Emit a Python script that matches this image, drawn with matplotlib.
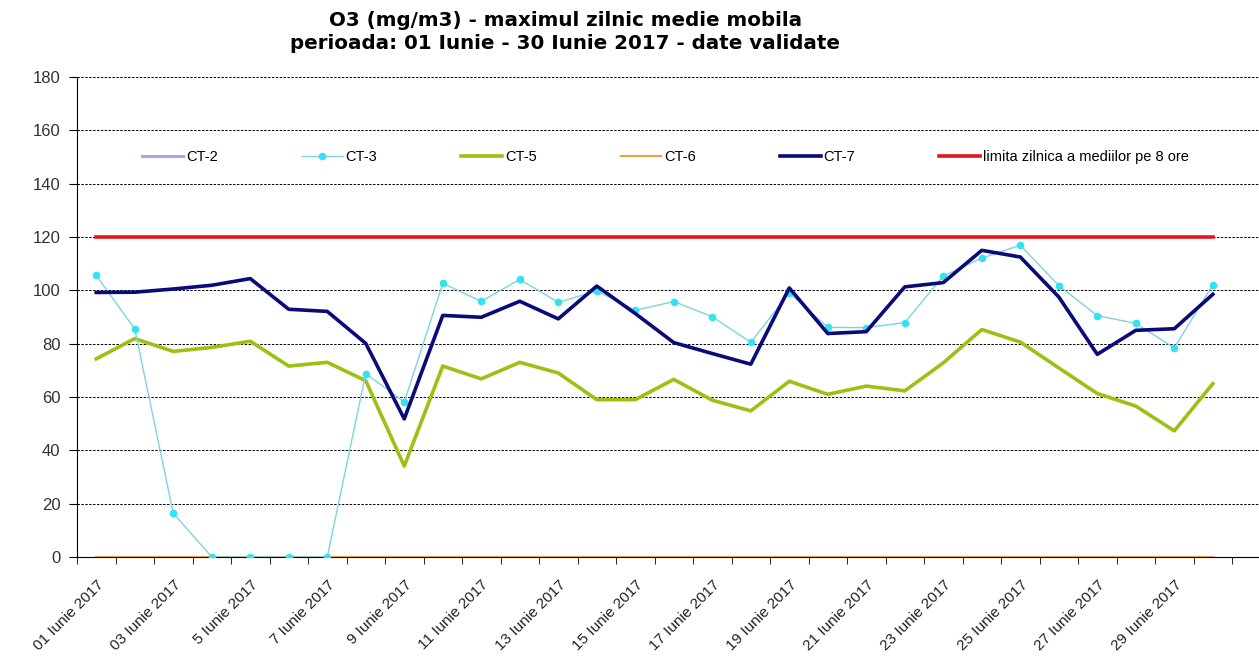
import numpy as np
import matplotlib
matplotlib.use("Agg")
import matplotlib.pyplot as plt

tick_labels = ["01 Iunie 2017", "03 Iunie 2017", "5 Iunie 2017", "7 Iunie 2017",
               "9 Iunie 2017", "11 Iunie 2017", "13 Iunie 2017", "15 Iunie 2017",
               "17 Iunie 2017", "19 Iunie 2017", "21 Iunie 2017", "23 Iunie 2017",
               "25 Iunie 2017", "27 Iunie 2017", "29 Iunie 2017"]

ct2 = [0] * 30
ct3 = [105.6, 85.5, 16.4, 0, 0, 0, 0, 68.8, 58.1, 102.6,
       95.9, 104.1, 95.5, 99.8, 92.5, 95.8, 90.1, 80.5, 99.0, 86.1,
       86.0, 87.9, 105.4, 112.1, 116.9, 101.8, 90.5, 87.6, 78.4, 102.1]
ct5 = [74.3, 81.9, 77.1, 78.6, 80.9, 71.6, 73.0, 66.1, 34.1, 71.6,
       66.8, 73.0, 69.0, 59.0, 59.0, 66.6, 58.8, 54.8, 65.9, 61.0,
       64.1, 62.3, 72.8, 85.3, 80.6, 70.9, 61.3, 56.6, 47.3, 65.0]
ct6 = [0] * 30
ct7 = [99.2, 99.3, 100.5, 101.9, 104.4, 92.9, 92.1, 80.1, 51.8, 90.6,
       89.9, 95.9, 89.3, 101.6, 91.3, 80.4, 76.3, 72.3, 100.9, 83.8,
       84.5, 101.3, 102.9, 115.0, 112.5, 97.5, 76.0, 85.0, 85.6, 98.5]
limita = [120] * 30

x = np.arange(30)

fig = plt.figure(figsize=(12.59, 6.56), dpi=100)
ax = fig.add_axes([77 / 1259, 1 - 557 / 656, 1 - 77 / 1259, 480 / 656])

ax.plot(x, ct2, color="#B3A2E6", lw=2.2, label="CT-2", zorder=3)
ax.plot(x, ct3, color="#7FD3E0", lw=1.0, marker="o", ms=4.5, mfc="#33E3F2",
        mec="#33E3F2", label="CT-3", zorder=4)
ax.plot(x, ct5, color="#99C213", lw=2.6, label="CT-5", zorder=3)
ax.plot(x, ct6, color="#F5A032", lw=1.5, label="CT-6", zorder=3)
ax.plot(x, ct7, color="#0A0A78", lw=2.6, label="CT-7", zorder=5)
ax.plot(x, limita, color="#E3141E", lw=2.6, label="limita zilnica a mediilor pe 8 ore", zorder=3)

ax.set_xlim(-0.5, 30.2)
ax.set_ylim(0, 180)
ax.set_yticks(np.arange(0, 181, 20))
ax.yaxis.grid(True, color="black", linestyle=(0, (2.5, 1.5)), lw=0.7)
ax.set_axisbelow(True)

ax.set_xticks(np.arange(-0.5, 30, 1), minor=True)
ax.set_xticks(np.arange(0, 30, 2))
ax.set_xticklabels(tick_labels, rotation=45, ha="right", va="top",
                   rotation_mode="anchor", fontsize=11, family="Liberation Sans",
                   color="#222222")
ax.tick_params(axis="x", which="major", length=0, pad=15)
ax.tick_params(axis="x", which="minor", length=5, direction="out", color="black")
ax.tick_params(axis="y", length=6, direction="out", labelsize=12, labelcolor="#333333", pad=6)
for lbl in ax.get_yticklabels():
    lbl.set_family("Liberation Sans")

for s in ["top", "right"]:
    ax.spines[s].set_visible(False)
ax.spines["left"].set_color("black")
ax.spines["bottom"].set_color("black")

leg = ax.legend(loc="center", bbox_to_anchor=(0.498, 0.833), ncol=6, frameon=False,
                handlelength=2.8, handletextpad=0.2, columnspacing=5.75,
                prop={"family": "Liberation Sans", "size": 10.5})

fig.text(0.449, 0.968, "O3 (mg/m3) - maximul zilnic medie mobila", ha="center", va="center",
         fontsize=14.3, fontweight="bold", family="DejaVu Sans")
fig.text(0.449, 0.934, "perioada: 01 Iunie - 30 Iunie 2017 - date validate", ha="center", va="center",
         fontsize=14.3, fontweight="bold", family="DejaVu Sans")

fig.savefig("out.png", dpi=100)
